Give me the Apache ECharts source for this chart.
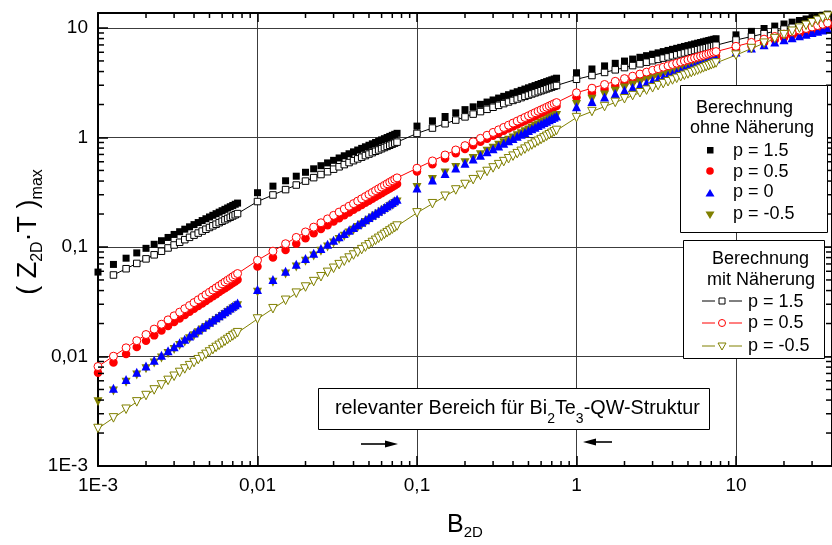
<!DOCTYPE html>
<html>
<head>
<meta charset="utf-8">
<script src="https://cdn.jsdelivr.net/npm/echarts@6/dist/echarts.min.js"></script>
<style>
  html, body { margin: 0; padding: 0; background: #fff; }
  #chart { width: 832px; height: 545px; }
</style>
</head>
<body>
<div id="chart"></div>
<script>
// B_2D sampling points
const B2D = [
  0.001,0.00125,0.0015,0.00175,0.002,0.00225,0.0025,0.00275,0.003,0.00325,0.0035,0.00375,0.004,0.00425,0.0045,0.00475,0.005,0.00525,0.0055,0.00575,0.006,0.00625,0.0065,0.00675,0.007,0.00725,0.0075,
  0.01,0.0125,0.015,0.0175,0.02,0.0225,0.025,0.0275,0.03,0.0325,0.035,0.0375,0.04,0.0425,0.045,0.0475,0.05,0.0525,0.055,0.0575,0.06,0.0625,0.065,0.0675,0.07,0.0725,0.075,
  0.1,0.125,0.15,0.175,0.2,0.225,0.25,0.275,0.3,0.325,0.35,0.375,0.4,0.425,0.45,0.475,0.5,0.525,0.55,0.575,0.6,0.625,0.65,0.675,0.7,0.725,0.75,
  1,1.25,1.5,1.75,2,2.25,2.5,2.75,3,3.25,3.5,3.75,4,4.25,4.5,4.75,5,5.25,5.5,5.75,6,6.25,6.5,6.75,7,7.25,7.5,
  10,12.5,15,17.5,20,22.5,25,27.5,30,32.5,35,37.5
];

// (Z_2D T)_max, Berechnung ohne Näherung
const ZT_ohne_p15 = [
  0.059,0.0693,0.079,0.0883,0.0972,0.1058,0.1141,0.1222,0.1302,0.1379,0.1454,0.1528,0.1601,0.1672,0.1743,0.1811,0.188,0.1947,0.2014,0.2079,0.2144,0.2207,0.2271,0.2333,0.2395,0.2456,0.2517,
  0.313,0.3595,0.4024,0.443,0.4811,0.5175,0.5524,0.5859,0.6183,0.65,0.6806,0.7103,0.7394,0.7678,0.7953,0.8223,0.849,0.8751,0.9007,0.9259,0.9506,0.9749,0.9989,1.0226,1.0459,1.0688,1.0917,
  1.27,1.42,1.555,1.68,1.796,1.905,2.008,2.106,2.2,2.29,2.376,2.459,2.54,2.618,2.694,2.768,2.84,2.91,2.978,3.045,3.111,3.175,3.238,3.3,3.36,3.42,3.478,
  3.9,4.222,4.504,4.758,4.987,5.201,5.399,5.586,5.761,5.926,6.086,6.236,6.381,6.519,6.652,6.782,6.906,7.026,7.144,7.26,7.368,7.475,7.579,7.681,7.782,7.879,7.973,
  8.65,9.311,9.89,10.403,10.872,11.304,11.703,12.079,12.43,12.765,13.081,13.379
];
const ZT_ohne_p05 = [
  0.0071,0.00882,0.01052,0.01222,0.01391,0.01559,0.01727,0.01894,0.02061,0.02227,0.02393,0.02559,0.02724,0.02889,0.03054,0.03218,0.03382,0.03547,0.03711,0.03874,0.04038,0.042,0.04363,0.04526,0.04687,0.04851,0.05013,
  0.0663,0.08032,0.09396,0.1073,0.1203,0.1332,0.1458,0.1583,0.1706,0.1827,0.1947,0.2067,0.2185,0.2301,0.2417,0.2532,0.2647,0.276,0.2873,0.2985,0.3096,0.3206,0.3316,0.3426,0.3535,0.3643,0.3751,
  0.488,0.5686,0.6443,0.716,0.7847,0.8506,0.9144,0.976,1.0358,1.094,1.151,1.2067,1.2614,1.3149,1.3675,1.4191,1.4699,1.5195,1.5688,1.6174,1.6652,1.7123,1.7589,1.8051,1.8504,1.8957,1.9402,
  2.33,2.565,2.774,2.964,3.139,3.302,3.454,3.599,3.737,3.868,3.993,4.113,4.229,4.341,4.449,4.553,4.655,4.753,4.85,4.942,5.035,5.123,5.21,5.295,5.378,5.46,5.54,
  6.35,6.896,7.379,7.811,8.206,8.573,8.913,9.235,9.537,9.824,10.095,10.357
];
const ZT_ohne_p0 = [
  null,0.005125,0.00615,0.007175,0.0082,0.009225,0.01025,0.011275,0.0123,0.013325,0.01435,0.015375,0.0164,0.017425,0.01845,0.019475,0.0205,0.021525,0.02255,0.023575,0.0246,0.025625,0.02665,0.027675,0.0287,0.029725,0.03075,
  0.041,0.05057,0.06002,0.06938,0.07867,0.08787,0.09702,0.1061,0.1152,0.1242,0.1331,0.142,0.1509,0.1598,0.1686,0.1774,0.1861,0.1949,0.2036,0.2123,0.2209,0.2296,0.2382,0.2468,0.2554,0.2639,0.2725,
  0.346,0.409,0.469,0.5265,0.5819,0.6357,0.688,0.7391,0.7888,0.8376,0.8855,0.9325,0.9786,1.0239,1.0689,1.1128,1.1569,1.1998,1.2425,1.2844,1.3265,1.3678,1.4086,1.4492,1.489,1.5289,1.5682,
  1.91,2.135,2.339,2.527,2.701,2.865,3.02,3.167,3.308,3.443,3.573,3.699,3.82,3.938,4.052,4.163,4.271,4.376,4.479,4.58,4.679,4.775,4.87,4.962,5.054,5.143,5.231,
  6.04,6.559,7.018,7.429,7.805,8.155,8.478,8.784,9.071,9.344,9.602,9.851
];
const ZT_ohne_pm05 = [
  0.00387,0.004838,0.005805,0.006773,0.00774,0.008708,0.009675,0.01064,0.01161,0.01258,0.01355,0.01451,0.01548,0.01645,0.01742,0.01838,0.01935,0.02032,0.02129,0.02225,0.02322,0.02419,0.02516,0.02612,0.02709,0.02806,0.02903,
  0.0387,0.04773,0.05666,0.06549,0.07425,0.08294,0.09158,0.1002,0.1087,0.1172,0.1256,0.1341,0.1425,0.1508,0.1591,0.1674,0.1757,0.1839,0.1922,0.2004,0.2086,0.2167,0.2249,0.2329,0.2411,0.2491,0.2572,
  0.35,0.4137,0.4744,0.5326,0.5886,0.6431,0.696,0.7477,0.7979,0.8473,0.8957,0.9433,0.9899,1.0358,1.0813,1.1257,1.1703,1.2137,1.2569,1.2993,1.3418,1.3836,1.4249,1.466,1.5062,1.5466,1.5863,
  2.0,2.236,2.449,2.646,2.828,3.0,3.162,3.317,3.464,3.606,3.742,3.873,4.0,4.123,4.243,4.359,4.472,4.583,4.69,4.796,4.899,5.0,5.099,5.196,5.292,5.385,5.477,
  6.3,6.842,7.321,7.749,8.141,8.506,8.843,9.162,9.462,9.747,10.016,10.275
];

// (Z_2D T)_max, Berechnung mit Näherung
const ZT_mit_p15 = [
  null,0.0555,0.0633,0.0708,0.0779,0.0848,0.0915,0.098,0.1043,0.1105,0.1166,0.1225,0.1283,0.134,0.1397,0.1452,0.1507,0.1561,0.1614,0.1667,0.1718,0.177,0.182,0.187,0.192,0.1969,0.2018,
  0.26,0.2986,0.3342,0.368,0.3996,0.4299,0.4588,0.4867,0.5136,0.5399,0.5654,0.59,0.6142,0.6378,0.6606,0.6831,0.7053,0.7269,0.7482,0.7691,0.7896,0.8098,0.8298,0.8495,0.8688,0.8878,0.9068,
  1.09,1.219,1.335,1.442,1.542,1.635,1.723,1.808,1.888,1.965,2.039,2.111,2.18,2.247,2.312,2.376,2.437,2.498,2.556,2.614,2.67,2.725,2.779,2.832,2.884,2.935,2.985,
  3.4,3.681,3.926,4.148,4.348,4.534,4.707,4.87,5.023,5.167,5.306,5.437,5.563,5.683,5.799,5.912,6.021,6.125,6.228,6.329,6.423,6.516,6.608,6.697,6.784,6.869,6.951,
  7.76,8.353,8.873,9.333,9.754,10.141,10.499,10.836,11.151,11.451,11.735,12.002
];
const ZT_mit_p05 = [
  0.0081,0.01006,0.012,0.01394,0.01587,0.01779,0.0197,0.0216,0.02351,0.02541,0.02731,0.02919,0.03108,0.03296,0.03484,0.03672,0.03859,0.04047,0.04234,0.04419,0.04607,0.04792,0.04978,0.05163,0.05348,0.05534,0.05719,
  0.0756,0.09159,0.1071,0.1223,0.1372,0.1518,0.1663,0.1805,0.1945,0.2083,0.2221,0.2357,0.2491,0.2624,0.2756,0.2888,0.3018,0.3147,0.3276,0.3403,0.353,0.3656,0.3782,0.3906,0.403,0.4154,0.4277,
  0.524,0.6105,0.6918,0.7688,0.8426,0.9134,0.9819,1.0481,1.1122,1.1748,1.236,1.2957,1.3544,1.4119,1.4684,1.5238,1.5783,1.6316,1.6846,1.7367,1.788,1.8386,1.8887,1.9383,1.987,2.0355,2.0833,
  2.56,2.818,3.048,3.256,3.449,3.628,3.795,3.954,4.106,4.249,4.387,4.519,4.646,4.769,4.888,5.003,5.115,5.222,5.329,5.43,5.532,5.628,5.724,5.818,5.909,5.999,6.087,
  6.8,7.385,7.902,8.364,8.788,9.181,9.545,9.889,10.213,10.52,10.811,11.091
];
const ZT_mit_pm05 = [
  0.0022,0.00275,0.0033,0.00385,0.0044,0.00495,0.0055,0.00605,0.0066,0.00715,0.0077,0.00825,0.0088,0.00935,0.0099,0.01045,0.011,0.01155,0.0121,0.01265,0.0132,0.01375,0.0143,0.01485,0.0154,0.01595,0.0165,
  0.022,0.02732,0.0326,0.03787,0.04309,0.04831,0.05351,0.05867,0.06387,0.06901,0.07416,0.07929,0.08441,0.08952,0.09462,0.09973,0.1048,0.1099,0.115,0.12,0.1251,0.1302,0.1352,0.1402,0.1452,0.1503,0.1553,
  0.205,0.2484,0.2905,0.3317,0.3721,0.4117,0.4509,0.4893,0.5274,0.5649,0.6021,0.639,0.6754,0.7116,0.7474,0.783,0.8184,0.8534,0.8882,0.9229,0.9572,0.9914,1.0254,1.0592,1.0929,1.1265,1.1597,
  1.52,1.726,1.915,2.091,2.256,2.413,2.562,2.706,2.842,2.976,3.104,3.228,3.35,3.468,3.583,3.694,3.804,3.912,4.015,4.12,4.22,4.322,4.419,4.514,4.61,4.701,4.794,
  5.65,6.488,7.263,7.996,8.684,9.341,9.971,10.576,11.162,11.733,12.286,12.822
];

// axis ranges and tick labels (German decimal comma)
const X_RANGE = [0.001, 40];
const Y_RANGE = [0.001, 13.7];
const decadeLabels = { '-3': '1E-3', '-2': '0,01', '-1': '0,1', '0': '1', '1': '10' };
const minorMultipliers = [2, 3, 4, 5, 6, 7, 8, 9];
const decades = [-3, -2, -1, 0, 1];

const FONT = '"Liberation Sans", Arial, Helvetica, sans-serif';
const OLIVE = '#808000';

function decadeLabel(v) {
  const lg = Math.log10(v);
  const e = Math.round(lg);
  if (Math.abs(lg - e) > 1e-6) return '';
  return decadeLabels[String(e)] || '';
}

function pairs(ys) {
  const out = [];
  B2D.forEach((x, i) => { if (ys[i] != null) out.push([x, ys[i]]); });
  return out;
}

const chart = echarts.init(document.getElementById('chart'), null, { renderer: 'canvas' });

function logAxis(range, position, withLabels, tickLen) {
  return {
    type: 'log', logBase: 10, min: range[0], max: range[1], position: position,
    axisLine: { show: true, onZero: false, lineStyle: { color: '#000', width: 2 } },
    axisTick: { show: true, inside: true, length: tickLen, lineStyle: { color: '#000', width: 1.5 } },
    axisLabel: {
      show: withLabels, margin: 10, fontSize: 19, color: '#000', fontFamily: FONT,
      formatter: decadeLabel, showMaxLabel: false
    },
    splitLine: { show: withLabels, lineStyle: { color: '#3c3c3c', width: 1 } },
    minorTick: { show: false }
  };
}

function scatter(name, ys, symbol, size, color, rotate) {
  return {
    name: name, type: 'scatter', data: pairs(ys), symbol: symbol, symbolSize: size,
    symbolRotate: rotate || 0, clip: false,
    itemStyle: { color: color, opacity: 1 }, z: 3
  };
}
function lineSeries(name, ys, symbol, size, color, rotate) {
  return {
    name: name, type: 'line', data: pairs(ys), symbol: symbol, symbolSize: size,
    symbolRotate: rotate || 0, showSymbol: true, showAllSymbol: true, clip: false,
    lineStyle: { color: color, width: 1 },
    itemStyle: { color: '#fff', borderColor: color, borderWidth: 1 },
    z: 4
  };
}

const option = {
  animation: false,
  backgroundColor: '#fff',
  grid: { left: 98, top: 13, width: 737, height: 453, containLabel: false },
  xAxis: [logAxis(X_RANGE, 'bottom', true, 10), logAxis(X_RANGE, 'top', false, 9)],
  yAxis: [logAxis(Y_RANGE, 'left', true, 10), logAxis(Y_RANGE, 'right', false, 10)],
  series: [
    scatter('ohne p = 1.5', ZT_ohne_p15, 'rect', 7, '#000'),
    scatter('ohne p = 0.5', ZT_ohne_p05, 'circle', 8.5, '#ff0000'),
    scatter('ohne p = -0.5', ZT_ohne_pm05, 'triangle', 9, OLIVE, 180),
    scatter('ohne p = 0', ZT_ohne_p0, 'triangle', 9, '#0000ff'),
    lineSeries('mit p = 1.5', ZT_mit_p15, 'rect', 6.5, '#000'),
    lineSeries('mit p = 0.5', ZT_mit_p05, 'circle', 8, '#ff0000'),
    lineSeries('mit p = -0.5', ZT_mit_pm05, 'triangle', 8.5, OLIVE, 180)
  ]
};
chart.setOption(option);

// ---- overlay: minor ticks, titles, legend boxes, annotation ----
function px(axis, v) {
  return axis === 'x' ? chart.convertToPixel({ xAxisIndex: 0 }, v) : chart.convertToPixel({ yAxisIndex: 0 }, v);
}
const gLeft = px('x', X_RANGE[0]), gRight = px('x', X_RANGE[1]);
const gBottom = px('y', Y_RANGE[0]), gTop = px('y', Y_RANGE[1]);

const els = [];
const tickStyle = { stroke: '#000', lineWidth: 1.5 };
decades.forEach(d => {
  minorMultipliers.forEach(m => {
    const v = m * Math.pow(10, d);
    if (v < X_RANGE[1]) {
      const x = px('x', v);
      els.push({ type: 'line', z: 10, shape: { x1: x, y1: gBottom, x2: x, y2: gBottom - 5 }, style: tickStyle });
      els.push({ type: 'line', z: 10, shape: { x1: x, y1: gTop, x2: x, y2: gTop + 5 }, style: tickStyle });
    }
    if (v < Y_RANGE[1]) {
      const y = px('y', v);
      els.push({ type: 'line', z: 10, shape: { x1: gLeft, y1: y, x2: gLeft + 6, y2: y }, style: tickStyle });
      els.push({ type: 'line', z: 10, shape: { x1: gRight, y1: y, x2: gRight - 6, y2: y }, style: tickStyle });
    }
  });
});

function txt(x, y, text, size, align) {
  return {
    type: 'text', x: x, y: y, z: 101,
    style: { text: text, fill: '#000', fontSize: size, fontFamily: FONT, align: align || 'left', verticalAlign: 'middle' }
  };
}

// axis titles
els.push({
  type: 'text', x: 447, y: 525, z: 101,
  style: {
    text: '{b|B}{s|2D}', align: 'left', verticalAlign: 'middle', fill: '#000',
    rich: {
      b: { fontSize: 25, fontFamily: FONT, lineHeight: 30, verticalAlign: 'middle' },
      s: { fontSize: 15, fontFamily: FONT, lineHeight: 30, verticalAlign: 'bottom' }
    }
  }
});
els.push({
  type: 'text', x: 29, y: 232, z: 101, rotation: Math.PI / 2,
  style: {
    text: '{b|( Z}{s|2D}{b|·T )}{s|max}', align: 'center', verticalAlign: 'middle', fill: '#000',
    rich: {
      b: { fontSize: 27, fontFamily: FONT, lineHeight: 34, verticalAlign: 'middle' },
      s: { fontSize: 16, fontFamily: FONT, lineHeight: 34, verticalAlign: 'bottom' }
    }
  }
});

// legend box: Berechnung ohne Näherung
els.push({ type: 'rect', z: 100, shape: { x: 680.5, y: 85.5, width: 147, height: 147 }, style: { fill: '#fff', stroke: '#000', lineWidth: 1 } });
els.push(txt(696, 108, 'Berechnung', 18));
els.push(txt(690, 128.5, 'ohne Näherung', 18));
els.push({ type: 'rect', z: 101, shape: { x: 707, y: 147, width: 6.5, height: 6.5 }, style: { fill: '#000' } });
els.push(txt(733, 151, 'p = 1.5', 18));
els.push({ type: 'circle', z: 101, shape: { cx: 710, cy: 171, r: 3.8 }, style: { fill: '#ff0000' } });
els.push(txt(733, 172, 'p = 0.5', 18));
els.push({ type: 'polygon', z: 101, shape: { points: [[705.5, 196.5], [714.5, 196.5], [710, 189]] }, style: { fill: '#0000ff' } });
els.push(txt(733, 192.5, 'p = 0', 18));
els.push({ type: 'polygon', z: 101, shape: { points: [[705.5, 211.5], [714.5, 211.5], [710, 219]] }, style: { fill: OLIVE } });
els.push(txt(733, 214, 'p = -0.5', 18));

// legend box: Berechnung mit Näherung
els.push({ type: 'rect', z: 100, shape: { x: 683.5, y: 240.5, width: 141, height: 118 }, style: { fill: '#fff', stroke: '#000', lineWidth: 1 } });
els.push(txt(712, 259, 'Berechnung', 18));
els.push(txt(707, 280.5, 'mit Näherung', 18));
function legendLine(y, color) {
  els.push({ type: 'line', z: 101, shape: { x1: 702, y1: y, x2: 715, y2: y }, style: { stroke: color, lineWidth: 1 } });
  els.push({ type: 'line', z: 101, shape: { x1: 729, y1: y, x2: 742, y2: y }, style: { stroke: color, lineWidth: 1 } });
}
legendLine(301, '#000');
els.push({ type: 'rect', z: 101, shape: { x: 719, y: 298, width: 6, height: 6 }, style: { fill: '#fff', stroke: '#000', lineWidth: 1 } });
els.push(txt(748, 302, 'p = 1.5', 18));
legendLine(323, '#ff0000');
els.push({ type: 'circle', z: 101, shape: { cx: 722, cy: 323, r: 3.5 }, style: { fill: '#fff', stroke: '#ff0000', lineWidth: 1 } });
els.push(txt(748, 323.5, 'p = 0.5', 18));
legendLine(346, OLIVE);
els.push({ type: 'polygon', z: 101, shape: { points: [[718, 343], [726, 343], [722, 350]] }, style: { fill: '#fff', stroke: OLIVE, lineWidth: 1 } });
els.push(txt(748, 346, 'p = -0.5', 18));

// annotation: relevant range
els.push({ type: 'rect', z: 100, shape: { x: 318.5, y: 388.5, width: 391, height: 41 }, style: { fill: '#fff', stroke: '#000', lineWidth: 1 } });
els.push({
  type: 'text', x: 335, y: 409, z: 101,
  style: {
    text: '{a|relevanter Bereich für Bi}{s|2}{a|Te}{s|3}{a|-QW-Struktur}', align: 'left', verticalAlign: 'middle', fill: '#000',
    rich: {
      a: { fontSize: 19.8, fontFamily: FONT, lineHeight: 34, verticalAlign: 'middle' },
      s: { fontSize: 14, fontFamily: FONT, lineHeight: 34, verticalAlign: 'bottom' }
    }
  }
});
// arrows
els.push({ type: 'line', z: 101, shape: { x1: 361, y1: 444, x2: 390, y2: 444 }, style: { stroke: '#000', lineWidth: 1.6 } });
els.push({ type: 'polygon', z: 101, shape: { points: [[385, 440.5], [398, 444], [385, 447.5]] }, style: { fill: '#000' } });
els.push({ type: 'line', z: 101, shape: { x1: 591, y1: 442, x2: 612, y2: 442 }, style: { stroke: '#000', lineWidth: 1.6 } });
els.push({ type: 'polygon', z: 101, shape: { points: [[596, 438.5], [583, 442], [596, 445.5]] }, style: { fill: '#000' } });

chart.setOption({ graphic: { elements: els } });
</script>
</body>
</html>
